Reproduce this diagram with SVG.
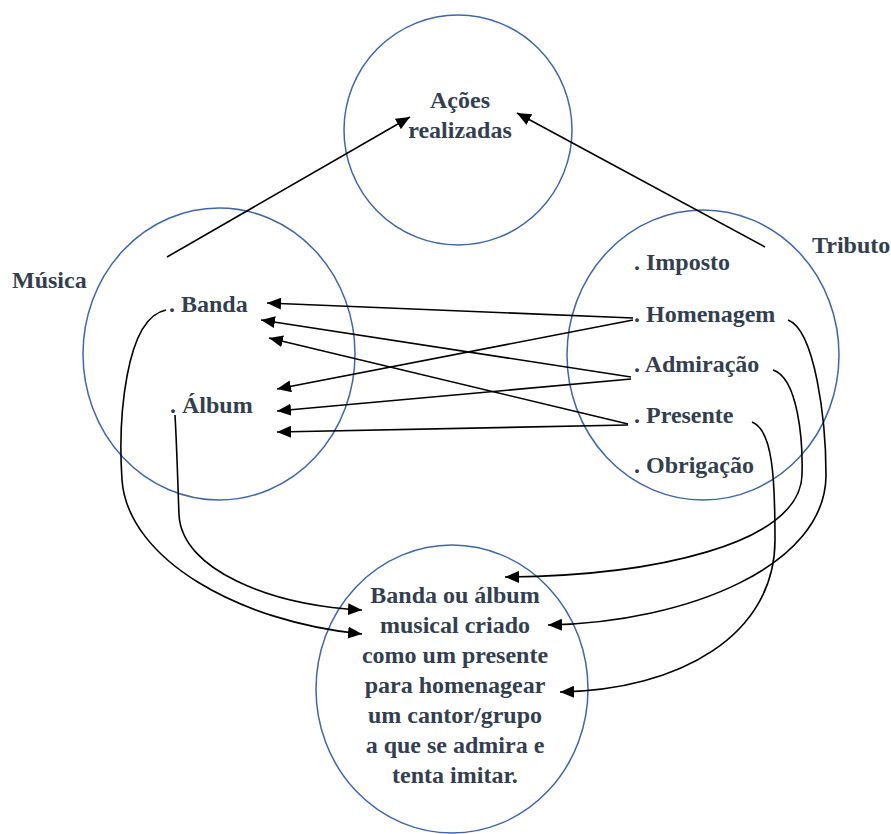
<svg xmlns="http://www.w3.org/2000/svg" width="891" height="834" viewBox="0 0 891 834">
  <style>
    .ring { fill: none; stroke: #3F66A8; stroke-width: 1.5; }
    .lbl { font-family: "Liberation Serif", "Times New Roman", serif; font-weight: bold; font-size: 24px; fill: #333F50; }
    .mid { text-anchor: middle; }
    .link { fill: none; stroke: #000; stroke-width: 1.6; marker-end: url(#tip); }
  </style>
  <defs>
    <marker id="tip" viewBox="0 0 14 12" refX="14" refY="6" markerWidth="14" markerHeight="12" markerUnits="userSpaceOnUse" orient="auto">
      <path d="M0,0 L14,6 L0,12 Z" fill="#000"/>
    </marker>
  </defs>

  <rect width="891" height="834" fill="#fff"/>

  <!-- concept circles -->
  <g id="acoes">
    <ellipse class="ring" cx="458" cy="130" rx="114" ry="115"/>
    <text class="lbl mid" x="460" y="108">Ações</text>
    <text class="lbl mid" x="460" y="138">realizadas</text>
  </g>

  <g id="musica">
    <ellipse class="ring" cx="219" cy="354" rx="136" ry="146"/>
    <text class="lbl" x="12" y="288">Música</text>
    <text class="lbl" x="169" y="312">. Banda</text>
    <text class="lbl" x="170" y="413">. Álbum</text>
  </g>

  <g id="tributo">
    <ellipse class="ring" cx="703" cy="355" rx="136" ry="145"/>
    <text class="lbl" x="812" y="253">Tributo</text>
    <text class="lbl" x="634" y="270">. Imposto</text>
    <text class="lbl" x="634" y="322">. Homenagem</text>
    <text class="lbl" x="634" y="372">. Admiração</text>
    <text class="lbl" x="634" y="423">. Presente</text>
    <text class="lbl" x="634" y="473">. Obrigação</text>
  </g>

  <g id="definicao">
    <ellipse class="ring" cx="452" cy="689" rx="136" ry="144"/>
    <text class="lbl mid" x="455" y="603">Banda ou álbum</text>
    <text class="lbl mid" x="455" y="633">musical criado</text>
    <text class="lbl mid" x="455" y="663">como um presente</text>
    <text class="lbl mid" x="455" y="693">para homenagear</text>
    <text class="lbl mid" x="455" y="723">um cantor/grupo</text>
    <text class="lbl mid" x="455" y="753">a que se admira e</text>
    <text class="lbl mid" x="455" y="783">tenta imitar.</text>
  </g>

  <!-- connectors -->
  <g id="connectors">
    <!-- into "Ações realizadas" -->
    <line class="link" x1="167" y1="257" x2="410" y2="117"/>
    <line class="link" x1="765" y1="247" x2="517" y2="113"/>

    <!-- Tributo terms to Música terms -->
    <line class="link" x1="633" y1="318" x2="267" y2="303"/>
    <line class="link" x1="633" y1="320" x2="277" y2="389"/>
    <line class="link" x1="631" y1="377" x2="261" y2="320"/>
    <line class="link" x1="631" y1="379" x2="277" y2="411"/>
    <line class="link" x1="628" y1="424" x2="269" y2="338"/>
    <line class="link" x1="628" y1="425" x2="277" y2="432"/>

    <!-- Música terms down to the definition -->
    <path class="link" d="M166,310 C125,318 118,420 122,480 C128,560 240,622 362,634"/>
    <path class="link" d="M175,415 C177,450 178,490 179,515 C182,570 270,605 362,610"/>

    <!-- Tributo terms down to the definition -->
    <path class="link" d="M773,370 C798,378 803,440 802,475 C800,545 650,576 505,577"/>
    <path class="link" d="M788,320 C815,330 826,420 826,475 C826,565 690,622 548,625"/>
    <path class="link" d="M752,422 C773,430 775,480 775,540 C775,635 680,690 560,692"/>
  </g>
</svg>
